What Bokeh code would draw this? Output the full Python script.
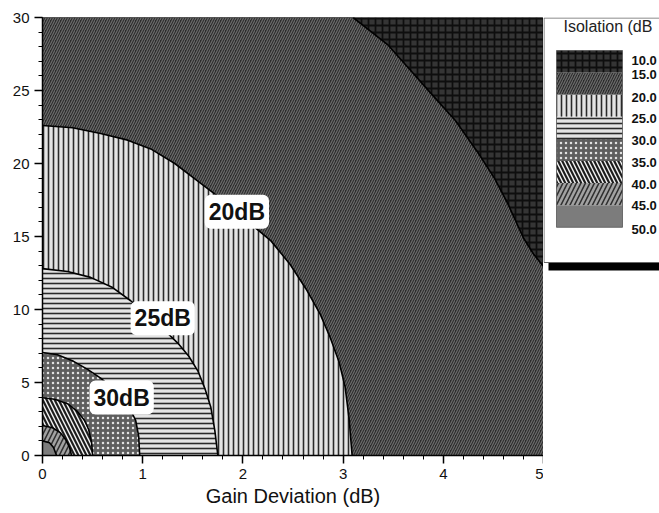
from bokeh.plotting import figure
from bokeh.models import Range1d, SingleIntervalTicker, Label
from bokeh.layouts import row
from bokeh.embed import file_html
from bokeh.resources import INLINE
from bokeh.core.properties import value

# ---------------- data ----------------
iso_levels = [10.0, 15.0, 20.0, 25.0, 30.0, 35.0, 40.0, 45.0, 50.0]
x_limits = [0.0, 5.0]
y_limits = [0.0, 30.0]

# contour boundaries (gain deviation dB, phase deviation deg)
b10_x = [3.10, 3.45, 3.67, 3.89, 4.12, 4.35, 4.51, 4.64, 4.80, 4.90, 5.00]
b10_y = [30.0, 28.1, 26.4, 24.7, 22.95, 20.7, 19.0, 17.3, 14.9, 13.8, 12.95]

b15_x = [0.00, 0.30, 0.58, 0.85, 1.08, 1.32, 1.55, 1.78, 2.02, 2.28, 2.47, 2.64, 2.77, 2.87, 2.96, 3.02, 3.06, 3.09]
b15_y = [22.6, 22.45, 22.05, 21.6, 21.0, 20.0, 18.8, 17.6, 16.2, 14.7, 13.1, 11.3, 9.7, 8.1, 6.4, 4.7, 2.5, 0.0]

b20_x = [0.00, 0.25, 0.48, 0.70, 0.88, 1.05, 1.20, 1.35, 1.46, 1.55, 1.62, 1.68, 1.72, 1.75]
b20_y = [12.8, 12.6, 12.2, 11.5, 10.6, 9.6, 8.7, 7.7, 6.8, 5.8, 4.6, 3.3, 1.7, 0.0]

b25_x = [0.00, 0.15, 0.31, 0.45, 0.58, 0.70, 0.80, 0.88, 0.93, 0.96, 0.97]
b25_y = [7.05, 6.9, 6.45, 5.9, 5.3, 4.6, 3.9, 3.1, 2.4, 1.3, 0.0]

b30_x = [0.00, 0.12, 0.25, 0.35, 0.42, 0.46, 0.49, 0.50]
b30_y = [3.95, 3.85, 3.55, 3.0, 2.4, 1.8, 0.9, 0.0]

b35_x = [0.00, 0.10, 0.18, 0.23, 0.27, 0.29]
b35_y = [2.05, 1.9, 1.55, 1.1, 0.55, 0.0]

b40_x = [0.00, 0.07, 0.11, 0.14]
b40_y = [1.0, 0.88, 0.55, 0.0]

contour_labels = ["20dB", "25dB", "30dB"]
contour_label_x = [1.94, 1.20, 0.79]
contour_label_y = [16.7, 9.4, 3.97]

legend_title = "Isolation (dB"

# ---------------- styles ----------------
region_styles = [
    dict(fill_color="#353535", hatch_pattern="+", hatch_color="#0e0e0e", hatch_scale=7, hatch_weight=1.8),   # 10
    dict(fill_color="#2c2c2c", hatch_pattern="/", hatch_color="#6c6c6c", hatch_scale=5, hatch_weight=1.2),   # 15
    dict(fill_color="#e4e4e4", hatch_pattern="|", hatch_color="#2a2a2a", hatch_scale=5, hatch_weight=1.6),   # 20
    dict(fill_color="#e4e4e4", hatch_pattern="-", hatch_color="#2a2a2a", hatch_scale=5, hatch_weight=1.6),   # 25
    dict(fill_color="#5e5e5e", hatch_pattern=".", hatch_color="#e2e2e2", hatch_scale=5, hatch_weight=1.0),   # 30
    dict(fill_color="#f4f4f4", hatch_pattern="\\", hatch_color="#1e1e1e", hatch_scale=8, hatch_weight=2.2),  # 35
    dict(fill_color="#a2a2a2", hatch_pattern="/", hatch_color="#303030", hatch_scale=9, hatch_weight=1.6),   # 40
    dict(fill_color="#7c7c7c"),                                                                               # 45
]
FONT = "Liberation Sans"

# ---------------- main plot ----------------
p = figure(width=543, height=513,
           x_range=Range1d(x_limits[0], x_limits[1]), y_range=Range1d(y_limits[0], y_limits[1]),
           output_backend="svg", toolbar_location=None,
           min_border_left=42, min_border_right=0, min_border_top=17, min_border_bottom=58)
p.grid.visible = False
p.outline_line_color = "#808080"
p.outline_line_width = 1
p.background_fill_color = "white"
p.border_fill_color = "white"

x0, x1 = x_limits
y0, y1 = y_limits
# outermost region fills the whole frame
p.patch([x0, x0, x1, x1], [y0, y1, y1, y0], line_color=None, **region_styles[0])
# region bounded by the 10 dB curve
p.patch([x0, x0] + b10_x + [x1], [y0, y1] + b10_y + [y0], line_color=None, **region_styles[1])

inner = [(b15_x, b15_y), (b20_x, b20_y), (b25_x, b25_y), (b30_x, b30_y), (b35_x, b35_y), (b40_x, b40_y)]
for k, (bx, by) in enumerate(inner):
    p.patch([x0] + bx, [y0] + by, line_color=None, **region_styles[k + 2])

for bx, by in [(b10_x, b10_y)] + inner:
    p.line(bx, by, line_color="black", line_width=1.6)

for t, lx, ly in zip(contour_labels, contour_label_x, contour_label_y):
    p.add_layout(Label(x=lx, y=ly, text=t, text_align="center", text_baseline="middle",
                       text_font=FONT, text_font_style="bold", text_font_size="23px",
                       text_color="#111111", background_fill_color="white",
                       border_line_color=None, padding=4, border_radius=6))

p.xaxis.ticker = SingleIntervalTicker(interval=1, num_minor_ticks=5)
p.yaxis.ticker = SingleIntervalTicker(interval=5, num_minor_ticks=5)
for ax in (p.xaxis[0], p.yaxis[0]):
    ax.major_tick_out = 8
    ax.major_tick_in = 0
    ax.minor_tick_out = 4
    ax.minor_tick_in = 0
    ax.axis_line_width = 1.5
    ax.axis_line_color = "black"
    ax.major_tick_line_width = 1.5
    ax.minor_tick_line_width = 1
    ax.major_label_text_font = FONT
    ax.major_label_text_font_size = "15px"
    ax.major_label_text_color = "#111111"
    ax.major_label_standoff = 5
p.xaxis.axis_label = "Gain Deviation (dB)"
p.xaxis.axis_label_text_font = FONT
p.xaxis.axis_label_text_font_style = "normal"
p.xaxis.axis_label_text_font_size = "20px"
p.xaxis.axis_label_text_color = "#111111"
p.xaxis.axis_label_standoff = 3

# ---------------- legend panel (coordinates in page pixels; frame spans 17..455) ----------------
lg = figure(width=116, height=513, x_range=Range1d(0, 116), y_range=Range1d(455, 17),
            output_backend="svg", toolbar_location=None,
            min_border_left=0, min_border_right=0, min_border_top=17, min_border_bottom=58,
            x_axis_location=None, y_axis_location=None)
lg.grid.visible = False
lg.outline_line_color = None
lg.background_fill_color = "white"
lg.border_fill_color = "white"

lg.quad(left=[5], right=[140], top=[255], bottom=[270], fill_color="black", line_color=None)
lg.quad(left=[0.5], right=[140], top=[17.5], bottom=[262], fill_color="white", line_color="#666666", line_width=1)

sw_top, sw_h = 50, 22.1
for i, st in enumerate(region_styles):
    lg.quad(left=[13], right=[79], top=[sw_top + i * sw_h], bottom=[sw_top + (i + 1) * sw_h],
            line_color=None, **st)
lg.quad(left=[13], right=[79], top=[sw_top], bottom=[sw_top + len(region_styles) * sw_h],
        fill_color=None, line_color="#555555", line_width=0.8)

label_y = [60, 74, 97, 118, 140, 162, 184, 205, 229]
lg.text(x=[88] * len(iso_levels), y=label_y, text=[f"{v:.1f}" for v in iso_levels],
        text_font=value(FONT), text_font_style="bold", text_font_size="13px",
        text_baseline="middle", text_color="#111111")
lg.text(x=[20], y=[26], text=[legend_title], text_font=value(FONT),
        text_font_size="16px", text_baseline="middle", text_color="#222222")

layout = row(p, lg)
open("out.html", "w").write(file_html(layout, INLINE))
